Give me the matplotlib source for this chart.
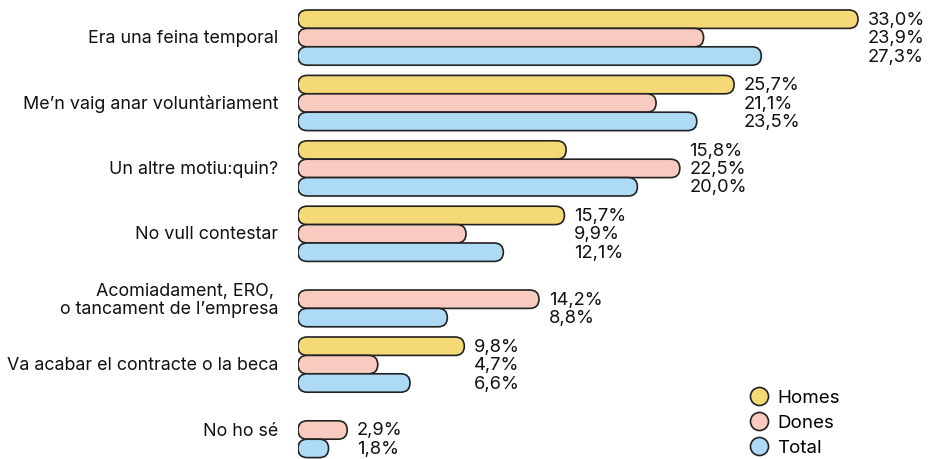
import numpy as np
import matplotlib
matplotlib.use("Agg")
import matplotlib.pyplot as plt
from matplotlib.patches import FancyBboxPatch
from matplotlib.lines import Line2D

plt.rcParams['font.family'] = ['Inter', 'DejaVu Sans']

#==================== data ====================
categories = ["Era una feina temporal",
              "Me\u2019n vaig anar voluntàriament",
              "Un altre motiu:quin?",
              "No vull contestar",
              "Acomiadament, ERO, \no tancament de l\u2019empresa",
              "Va acabar el contracte o la beca",
              "No ho sé"]
series = ["Homes", "Dones", "Total"]
homes = [33.0, 25.7, 15.8, 15.7, np.nan, 9.8, np.nan]
dones = [23.9, 21.1, 22.5, 9.9, 14.2, 4.7, 2.9]
total = [27.3, 23.5, 20.0, 12.1, 8.8, 6.6, 1.8]
colors = ["#F6D977", "#F9CBC0", "#ADDAF5"]

#==================== layout ====================
W, H = 929, 460
fig = plt.figure(figsize=(W/100, H/100), dpi=100)
ax_left = 298
ax = fig.add_axes([ax_left/W, 0, (W-ax_left)/W, 1])
px_per_x = 16.97          # pixels per percentage point
bar_px = 18.4             # bar height in pixels
pitch = 65.4/bar_px       # group pitch in bar units
ax.set_xlim(0, (W-ax_left)/px_per_x)
ax.set_ylim((H-11)/bar_px, -11/bar_px)
ax.axis('off')

rnd = (bar_px/2)/px_per_x
aspect = px_per_x/bar_px

vals = [homes, dones, total]
for k, cat in enumerate(categories):
    top = k*pitch
    present = []
    for j in range(3):
        v = vals[j][k]
        if np.isnan(v):
            continue
        y0 = top + j
        p = FancyBboxPatch((0, y0), v, 1,
                           boxstyle="round,pad=0,rounding_size=%f" % rnd,
                           mutation_aspect=aspect,
                           facecolor=colors[j], edgecolor="#222222", linewidth=1.2)
        ax.add_patch(p)
        present.append((j, v))
    vmax = max(v for j, v in present)
    for j, v in present:
        ax.annotate(("%.1f%%" % v).replace('.', ','), xy=(vmax, top + j + 0.5),
                    xytext=(7, 0), textcoords='offset points',
                    ha='left', va='center', fontsize=13.2, color="#111111")
    ax.annotate(cat, xy=(0, top + 1.5), xytext=(-14, 0), textcoords='offset points',
                ha='right', va='center', fontsize=12.9, color="#111111",
                linespacing=1.05, annotation_clip=False)

handles = [Line2D([], [], linestyle='none', marker='o', markersize=13,
                  markerfacecolor=c, markeredgecolor="#222222", markeredgewidth=1.2)
           for c in colors]
fig.legend(handles, series, loc='lower left', bbox_to_anchor=(740/W, -5/H),
           frameon=False, fontsize=13.5, labelspacing=0.42, handletextpad=0.4,
           handlelength=1.2, borderaxespad=0)

plt.savefig("out.png", dpi=100)
